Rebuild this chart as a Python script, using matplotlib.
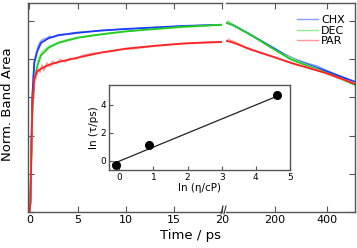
import matplotlib
matplotlib.use("Agg")
import matplotlib.pyplot as plt

# early times (0-20 ps), fits
t_early = [0, 0.1, 0.2, 0.3, 0.5, 0.8, 1.2, 2, 3, 5, 7.5, 10, 13, 16, 20]
chx_early = [0, 0.05, 0.35, 0.6, 0.78, 0.84, 0.885, 0.91, 0.925, 0.938, 0.95, 0.958, 0.966, 0.974, 0.98]
dec_early = [0, 0.05, 0.3, 0.52, 0.68, 0.76, 0.82, 0.86, 0.885, 0.912, 0.93, 0.945, 0.958, 0.97, 0.98]
par_early = [0, 0.05, 0.3, 0.55, 0.7, 0.735, 0.75, 0.77, 0.785, 0.808, 0.835, 0.855, 0.87, 0.882, 0.89]

# early times, raw data
t_raw = [0, 0.1, 0.2, 0.3, 0.5, 0.7, 0.9, 1.1, 1.3, 1.5, 1.8, 2.1, 2.4, 2.8, 3.2, 3.7, 4.2, 4.8,
         5.5, 6.5, 7.5, 8.5, 9.5, 11, 12.5, 14, 15.5, 17, 18.5, 20]
chx_raw = [0, 0.06, 0.33, 0.62, 0.79, 0.83, 0.87, 0.89, 0.9, 0.905, 0.91, 0.92, 0.915, 0.925, 0.93, 0.93,
           0.935, 0.94, 0.942, 0.946, 0.95, 0.953, 0.957, 0.96, 0.964, 0.968, 0.971, 0.975, 0.977, 0.98]
dec_raw = [0, 0.05, 0.28, 0.5, 0.69, 0.74, 0.8, 0.82, 0.84, 0.845, 0.86, 0.87, 0.875, 0.885, 0.892, 0.9,
           0.905, 0.912, 0.918, 0.926, 0.932, 0.938, 0.944, 0.95, 0.955, 0.96, 0.966, 0.97, 0.975, 0.98]
par_raw = [0, 0.04, 0.28, 0.52, 0.68, 0.7, 0.75, 0.73, 0.77, 0.74, 0.78, 0.76, 0.79, 0.775, 0.8, 0.785,
           0.805, 0.8, 0.82, 0.83, 0.835, 0.84, 0.85, 0.855, 0.865, 0.872, 0.88, 0.885, 0.89, 0.892]

# late times (20-500 ps), fits
t_late = [20, 40, 60, 100, 150, 200, 260, 300, 350, 400, 450, 505]
chx_late = [0.99, 0.98, 0.965, 0.935, 0.895, 0.855, 0.805, 0.785, 0.76, 0.735, 0.71, 0.68]
dec_late = [0.99, 0.98, 0.965, 0.935, 0.893, 0.85, 0.8, 0.778, 0.752, 0.727, 0.7, 0.665]
par_late = [0.895, 0.888, 0.878, 0.855, 0.832, 0.81, 0.782, 0.765, 0.745, 0.725, 0.7, 0.67]

# late times, raw data
t_late_raw = [20, 25, 30, 50, 80, 120, 160, 200, 240, 280, 320, 360, 400, 440, 480, 505]
chx_late_raw = [0.99, 1.0, 0.99, 0.975, 0.95, 0.92, 0.885, 0.855, 0.825, 0.8, 0.78, 0.765, 0.74, 0.715, 0.695, 0.685]
dec_late_raw = [0.985, 1.0, 0.99, 0.972, 0.948, 0.918, 0.882, 0.85, 0.82, 0.795, 0.772, 0.75, 0.725, 0.7, 0.68, 0.668]
par_late_raw = [0.895, 0.905, 0.9, 0.89, 0.87, 0.848, 0.83, 0.81, 0.79, 0.77, 0.76, 0.745, 0.722, 0.7, 0.685, 0.675]

labels = ["CHX", "DEC", "PAR"]
fit_cols = ["#1a3cff", "#22cc22", "#ff2222"]
raw_cols = ["#8a9cff", "#90ee90", "#ff9a9a"]

# inset: ln(tau) vs ln(eta)
ln_eta = [-0.09, 0.88, 4.62]
ln_tau = [-0.26, 1.14, 4.66]
fit_x = [-0.12, 4.62]
fit_y = [-0.14, 4.6]

W, H = 357, 248
fig = plt.figure(figsize=(W / 100, H / 100), dpi=100)
spc = "#555555"

ax1 = fig.add_axes([28 / W, 36 / H, 194 / W, 209 / H])
ax2 = fig.add_axes([226 / W, 36 / H, 129 / W, 209 / H])

for ax in (ax1, ax2):
    for s in ax.spines.values():
        s.set_color(spc)
        s.set_linewidth(1.0)
    ax.set_ylim(0, 1.094)
    ax.set_yticks([0, 0.2, 0.4, 0.6, 0.8, 1.0])
    ax.set_yticklabels([])
    ax.tick_params(direction="in", length=4, width=0.8, color=spc, labelsize=8, top=True, pad=2)

raw_e = [chx_raw, dec_raw, par_raw]
fit_e = [chx_early, dec_early, par_early]
raw_l = [chx_late_raw, dec_late_raw, par_late_raw]
fit_l = [chx_late, dec_late, par_late]
for i in range(3):
    ax1.plot(t_raw, raw_e[i], color=raw_cols[i], lw=1.0)
    ax1.plot(t_early, fit_e[i], color=fit_cols[i], lw=1.3)
    ax2.plot(t_late_raw, raw_l[i], color=raw_cols[i], lw=1.0, label=labels[i])
    ax2.plot(t_late, fit_l[i], color=fit_cols[i], lw=1.3)

ax1.set_xlim(-0.15, 20)
ax1.set_xticks([0, 5, 10, 15, 20])
ax1.spines["right"].set_visible(False)
ax1.tick_params(right=False)

ax2.set_xlim(16, 505)
ax2.set_xticks([200, 400])
ax2.spines["left"].set_visible(False)
ax2.tick_params(left=False, right=True)

# break marks
for dx in (-1.5, 1.5):
    x0 = (223.5 + dx) / W
    fig.add_artist(plt.Line2D([x0 - 1 / W, x0 + 1 / W], [(H - 214) / H, (H - 206) / H], color="#333333", lw=0.8))

ax2.legend(loc="upper right", frameon=False, fontsize=8, handlelength=1.9, handletextpad=0.3,
           labelspacing=0.05, borderaxespad=0.5, bbox_to_anchor=(1.0, 0.99))

fig.text(8 / W, 0.58, "Norm. Band Area", rotation=90, ha="center", va="center", fontsize=9.5)
fig.text(190 / W, 12 / H, "Time / ps", ha="center", va="center", fontsize=9.5)

# inset
axi = fig.add_axes([109 / W, 78 / H, 181 / W, 85 / H])
for s in axi.spines.values():
    s.set_color(spc)
    s.set_linewidth(1.0)
axi.plot(fit_x, fit_y, color="#222222", lw=0.9)
axi.plot(ln_eta, ln_tau, "o", color="black", ms=5.5)
axi.set_xlim(-0.3, 5.0)
axi.set_ylim(-0.65, 5.4)
axi.set_xticks([0, 1, 2, 3, 4, 5])
axi.set_yticks([0, 2, 4])
axi.tick_params(direction="in", length=3, width=0.8, color=spc, labelsize=6.5, pad=2)
axi.set_xlabel("ln (\u03b7/cP)", fontsize=7.5, labelpad=1)
axi.set_ylabel("ln (\u03c4/ps)", fontsize=7.5, labelpad=1)

fig.savefig("out.png", dpi=100)
